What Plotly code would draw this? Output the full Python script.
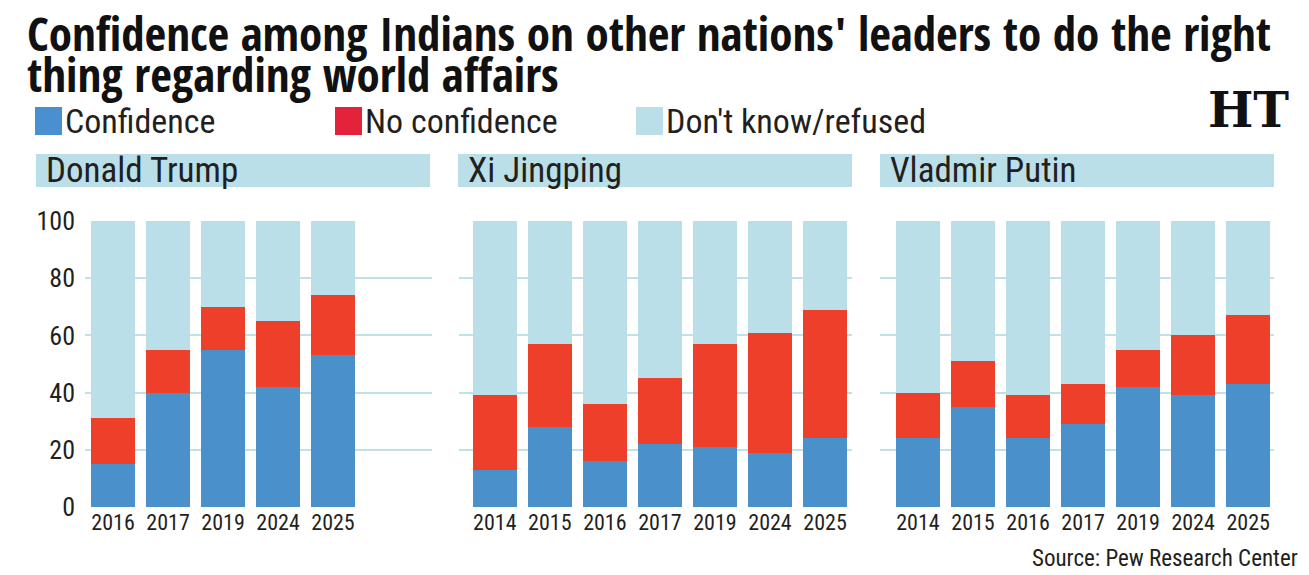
import plotly.graph_objects as go

W, H = 1309, 575

title_line1 = "Confidence among Indians on other nations' leaders to do the right"
title_line2 = "thing regarding world affairs"
source_text = "Source: Pew Research Center"

leaders = ["Donald Trump", "Xi Jingping", "Vladmir Putin"]

trump_years = ["2016", "2017", "2019", "2024", "2025"]
trump_conf = [15, 40, 55, 42, 53]
trump_noconf = [16, 15, 15, 23, 21]

xi_years = ["2014", "2015", "2016", "2017", "2019", "2024", "2025"]
xi_conf = [13, 28, 16, 22, 21, 19, 24]
xi_noconf = [26, 29, 20, 23, 36, 42, 45]

putin_years = ["2014", "2015", "2016", "2017", "2019", "2024", "2025"]
putin_conf = [24, 35, 24, 29, 42, 39, 43]
putin_noconf = [16, 16, 15, 14, 13, 21, 24]

series_names = ["Confidence", "No confidence", "Don't know/refused"]
y_ticks = [0, 20, 40, 60, 80, 100]

BLUE = "#4A91CB"
RED = "#EE3F2B"
LIGHT = "#BADFE9"
LEG_BLUE = "#4A8FD0"
LEG_RED = "#E3223B"
GRID = "#C0E1EA"
TXT = "#231F20"
FONT = "Roboto Condensed, DejaVu Sans Condensed, sans-serif"
TFONT = "Open Sans Condensed, Roboto Condensed, sans-serif"

def px(x):
    return x / W

def py(y):
    return 1 - y / H

panels = [
    (trump_years, trump_conf, trump_noconf, (85, 432), [-0.51, 5.8]),
    (xi_years, xi_conf, xi_noconf, (459, 852), [-0.65, 6.49]),
    (putin_years, putin_conf, putin_noconf, (880, 1274), [-0.69, 6.47]),
]

fig = go.Figure()
for i, (years, conf, noconf, (x0, x1), xr) in enumerate(panels):
    dk = [100 - c - n for c, n in zip(conf, noconf)]
    xa = "x" if i == 0 else f"x{i+1}"
    ya = "y" if i == 0 else f"y{i+1}"
    for vals, color, name in zip([conf, noconf, dk], [BLUE, RED, LIGHT], series_names):
        fig.add_trace(go.Bar(x=years, y=vals, name=name, marker=dict(color=color, line=dict(width=0)),
                             xaxis=xa, yaxis=ya, showlegend=False, width=0.79))
    xkey = "xaxis" if i == 0 else f"xaxis{i+1}"
    ykey = "yaxis" if i == 0 else f"yaxis{i+1}"
    fig.update_layout(**{
        xkey: dict(domain=[px(x0), px(x1)], anchor=ya, type="category", range=xr, automargin=False,
                   showgrid=False, zeroline=False, showline=False, ticks="",
                   tickfont=dict(family=FONT, size=22, color=TXT), fixedrange=True),
        ykey: dict(domain=[py(507), py(221)], anchor=xa, range=[0, 100], tickvals=y_ticks, automargin=False,
                   showgrid=True, gridcolor=GRID, gridwidth=2, zeroline=False, showline=False,
                   showticklabels=(i == 0), ticks="", ticklabelstandoff=9,
                   tickfont=dict(family=FONT, size=26, color=TXT), fixedrange=True),
    })

shapes = []
annotations = []

# Title
for line, yc in [(title_line1, 33), (title_line2, 74)]:
    annotations.append(dict(text=line, x=px(25), y=py(yc), xref="paper", yref="paper",
                            xanchor="left", yanchor="middle", showarrow=False,
                            font=dict(family=TFONT, size=47, color="#111111", weight="bold")))

# Legend
leg_items = [(35, LEG_BLUE, series_names[0]), (335, LEG_RED, series_names[1]), (636, LIGHT, series_names[2])]
for x, color, name in leg_items:
    shapes.append(dict(type="rect", xref="paper", yref="paper", x0=px(x), x1=px(x + 27),
                       y0=py(135), y1=py(107), fillcolor=color, line=dict(width=0)))
    annotations.append(dict(text=name, x=px(x + 28), y=py(121), xref="paper", yref="paper",
                            xanchor="left", yanchor="middle", showarrow=False,
                            font=dict(family=FONT, size=34, color=TXT)))

# HT logo
annotations.append(dict(text="<b>HT</b>", x=px(1248), y=py(110), xref="paper", yref="paper",
                        xanchor="center", yanchor="middle", showarrow=False,
                        font=dict(family="DejaVu Serif", size=48, color="#111111")))

# Panel headers
headers = [(36, 430), (458, 852), (880, 1274)]
for (h0, h1), name in zip(headers, leaders):
    shapes.append(dict(type="rect", xref="paper", yref="paper", x0=px(h0), x1=px(h1),
                       y0=py(187), y1=py(154), fillcolor=LIGHT, line=dict(width=0), layer="below"))
    annotations.append(dict(text=name, x=px(h0 + 8), y=py(170), xref="paper", yref="paper",
                            xanchor="left", yanchor="middle", showarrow=False,
                            font=dict(family=FONT, size=35, color=TXT)))

# Source
annotations.append(dict(text=source_text, x=px(1300), y=py(558), xref="paper", yref="paper",
                        xanchor="right", yanchor="middle", showarrow=False,
                        font=dict(family=FONT, size=23, color=TXT)))

fig.update_layout(
    width=W, height=H, margin=dict(l=0, r=0, t=0, b=0, autoexpand=False),
    paper_bgcolor="white", plot_bgcolor="rgba(0,0,0,0)",
    barmode="stack", bargap=0.21, showlegend=False,
    shapes=shapes, annotations=annotations,
)

fig.write_html("out.html", config={"displayModeBar": False})
